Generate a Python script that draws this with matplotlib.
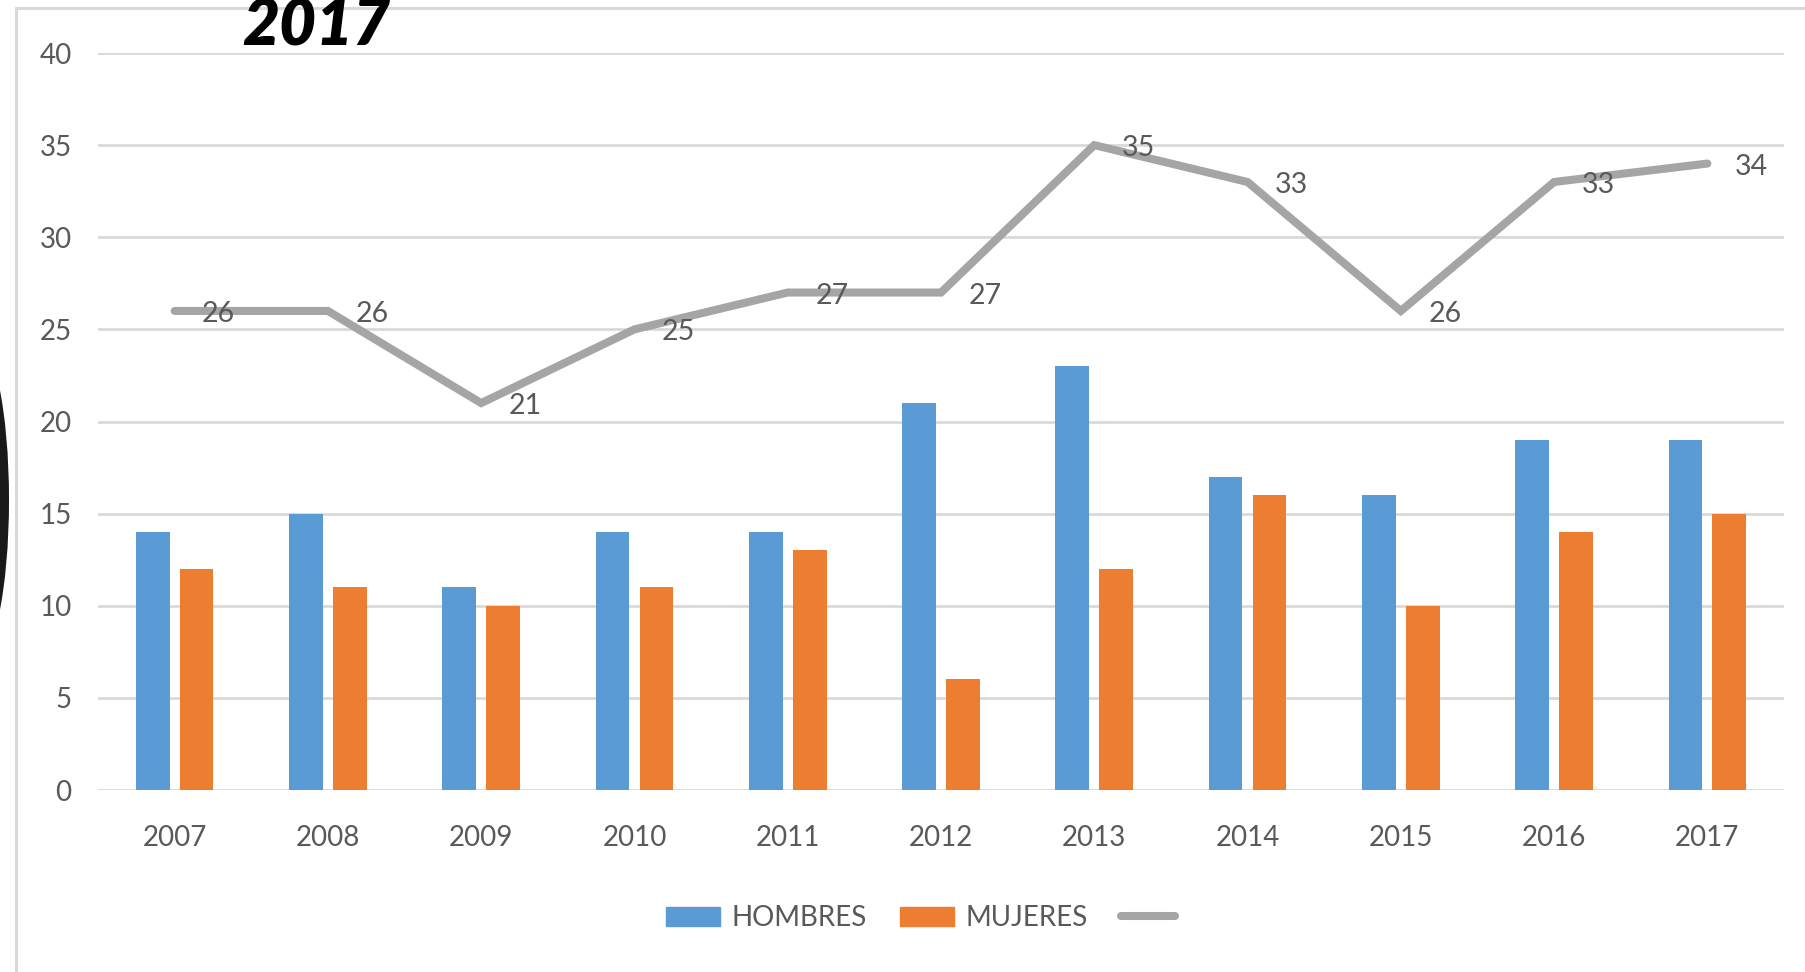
import matplotlib
matplotlib.use('Agg')
import matplotlib.pyplot as plt
from matplotlib.patches import Ellipse
from matplotlib.lines import Line2D
import numpy as np

# datos
years = ['2007', '2008', '2009', '2010', '2011', '2012', '2013', '2014', '2015', '2016', '2017']
hombres = [14, 15, 11, 14, 14, 21, 23, 17, 16, 19, 19]
mujeres = [12, 11, 10, 11, 13, 6, 12, 16, 10, 14, 15]
total = [26, 26, 21, 25, 27, 27, 35, 33, 26, 33, 34]

BLUE = '#5B9BD5'
ORANGE = '#ED7D31'
GRAY = '#A5A5A5'
TEXT = '#595959'
GRID = '#D9D9D9'

plt.rcParams['font.family'] = ['Lato', 'DejaVu Sans']

W, H = 1805, 972
fig = plt.figure(figsize=(W / 100, H / 100), dpi=100)
ax = fig.add_axes([98 / W, 1 - 790 / H, (1784 - 98) / W, (790 - 53) / H])

x = np.arange(len(years))
bw = 0.22
ax.bar(x - 0.143, hombres, width=bw, color=BLUE, zorder=2)
ax.bar(x + 0.143, mujeres, width=bw, color=ORANGE, zorder=2)
ax.plot(x, total, color=GRAY, linewidth=5.8, solid_capstyle='round',
        solid_joinstyle='miter', zorder=3)

for xi, v in zip(x, total):
    ax.annotate(str(v), (xi, v), xytext=(44, -3), textcoords='offset pixels',
                ha='center', va='center', fontsize=20.5, color=TEXT, zorder=4)

ax.set_xlim(-0.5, len(years) - 0.5)
ax.set_ylim(0, 40)
ax.set_yticks(range(0, 41, 5))
ax.set_xticks(x)
ax.set_xticklabels(years)
ax.tick_params(axis='both', length=0, labelsize=20, labelcolor=TEXT)
ax.tick_params(axis='y', pad=19)
ax.tick_params(axis='x', pad=25)
ax.grid(axis='y', color=GRID, linewidth=2, zorder=0)
ax.set_axisbelow(True)
for s in ax.spines.values():
    s.set_visible(False)

# leyenda
handles = [
    plt.Rectangle((0, 0), 1, 1, color=BLUE),
    plt.Rectangle((0, 0), 1, 1, color=ORANGE),
    Line2D([0], [0], color=GRAY, linewidth=5.8, solid_capstyle='round'),
]
fig.legend(handles, ['HOMBRES', 'MUJERES', ''], loc='center',
           bbox_to_anchor=(926 / W, 1 - 918 / H), ncol=3, frameon=False,
           fontsize=20, labelcolor=TEXT, handlelength=1.95, handleheight=0.7,
           columnspacing=1.2, handletextpad=0.4)

# marco del recorte
fig.add_artist(Line2D([16 / W, 16 / W], [0, 1 - 8 / H], color=GRID, linewidth=2.2,
                      transform=fig.transFigure))
fig.add_artist(Line2D([16 / W, 1], [1 - 8 / H, 1 - 8 / H], color=GRID, linewidth=2.2,
                      transform=fig.transFigure))

# arco negro a la izquierda
arc = Ellipse((-30 / W, 1 - 500 / H), 69 / W, 324 / H, fill=False,
              edgecolor='#1a1a1a', linewidth=6.5, transform=fig.transFigure)
fig.add_artist(arc)

# titulo cortado
fig.text(316 / W, 1 - 45 / H, '2017', ha='center', va='baseline', fontsize=46,
         fontweight='heavy', fontstyle='italic', family=['Lato', 'DejaVu Sans'],
         color='black')

fig.savefig('out.png', dpi=100)
